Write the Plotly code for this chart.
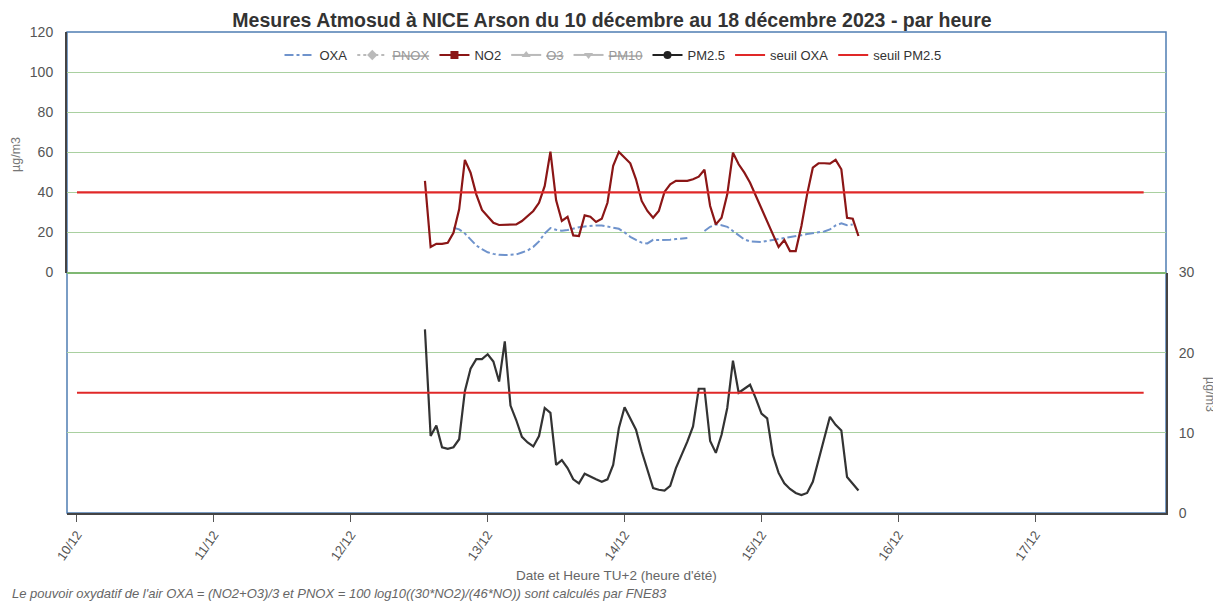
import pandas as pd
import plotly.graph_objects as go

# ---------------- data ----------------
start_time = "2023-12-12 13:00"
n_hours = 77

no2 = [45.7, 12.7, 14.3, 14.3, 14.8, 19.8, 31.5, 56.2, 49.8, 39.0,
       31.2, 28.0, 24.8, 23.7, 23.7, 24.0, 24.0, 25.7, 28.0, 30.7,
       34.8, 43.2, 60.3, 36.0, 25.7, 27.8, 18.5, 18.2, 28.5, 27.8,
       25.2, 26.8, 34.8, 53.2, 60.2, 57.3, 54.5, 46.5, 35.7, 30.7,
       27.3, 30.7, 40.2, 44.0, 45.7, 45.7, 45.7, 46.5, 47.8, 51.3,
       33.2, 24.0, 27.3, 39.0, 59.8, 54.0, 49.8, 44.8, 38.2, 31.5,
       24.8, 19.0, 12.8, 16.2, 10.7, 10.7, 23.2, 39.0, 52.3, 54.5,
       54.5, 54.3, 56.2, 51.5, 27.3, 26.8, 18.2]

oxa = [None, None, None, None, None, 22.3, 21.5, 19.5, 16.5, 13.5,
       11.6, 10.1, 9.3, 8.8, 8.7, 8.8, 9.0, 10.0, 11.0, 12.8,
       15.5, 19.5, 22.2, 21.3, 20.8, 21.2, 22.0, 22.6, 23.0, 23.3,
       23.5, 23.5, 23.0, 22.5, 21.8, 20.0, 17.8, 16.3, 14.9, 14.5,
       16.3, 16.2, 16.2, 16.4, 16.7, 17.0, 17.2, None, None, 20.7,
       22.8, 24.0, 23.6, 22.8, 20.8, 18.5, 16.5, 15.5, 15.2, 15.2,
       15.8, 16.4, 16.7, 17.2, 17.6, 18.0, 18.6, 19.2, 19.7, 20.1,
       20.5, 21.5, 23.5, 24.5, 23.6, 24.0, None]

pm25 = [22.9, 9.6, 10.9, 8.2, 8.0, 8.2, 9.2, 15.2, 18.0, 19.2,
        19.2, 19.8, 18.9, 16.4, 21.4, 13.4, 11.6, 9.5, 8.8, 8.3,
        9.6, 13.1, 12.5, 6.0, 6.6, 5.6, 4.2, 3.7, 4.9, 4.5,
        4.2, 3.9, 4.2, 6.0, 10.6, 13.2, 11.7, 10.4, 7.7, 5.3,
        3.1, 2.9, 2.8, 3.4, 5.6, 7.25, 8.9, 10.8, 15.5, 15.5,
        9.0, 7.5, 9.75, 13.1, 19.0, 15.0, 15.5, 16.0, 14.3, 12.4,
        11.8, 7.25, 5.0, 3.7, 3.0, 2.5, 2.25, 2.5, 3.9, 6.5,
        9.3, 12.0, 11.0, 10.3, 4.5, 3.7, 2.8]

seuil_dates = ["2023-12-10 00:00", "2023-12-17 19:00"]
seuil_oxa = [40, 40]
seuil_pm25 = [15, 15]

tick_dates = ["2023-12-10", "2023-12-11", "2023-12-12", "2023-12-13",
              "2023-12-14", "2023-12-15", "2023-12-16", "2023-12-17"]
tick_labels = ["10/12", "11/12", "12/12", "13/12", "14/12", "15/12", "16/12", "17/12"]
x_range = ["2023-12-09 22:15", "2023-12-17 22:55"]

times = pd.date_range(start_time, periods=n_hours, freq="h")

# ---------------- styles ----------------
FONT = "Liberation Sans, Arial, sans-serif"
C_OXA = "#6f93cc"
C_NO2 = "#8b1616"
C_PM = "#333333"
C_SEUIL = "#e02828"
C_GREY = "#777777"
C_GRID = "#a9d0a0"

# page body has an 8px margin: figure drawn at (8, 8)
OFF = 8
W, H = 1221 - OFF, 601 - OFF
PL, PT, PR, PB = 67, 32, 1166, 513          # plot area in window pixels
PW, PH = PR - PL, PB - PT


def px(xw):
    return (xw - PL) / PW


def py(yw):
    return (PB - yw) / PH


fig = go.Figure()

fig.add_trace(go.Scatter(x=times, y=oxa, mode="lines", yaxis="y", showlegend=False,
                         line=dict(color=C_OXA, width=2, dash="dashdot"), connectgaps=False))
fig.add_trace(go.Scatter(x=times, y=no2, mode="lines", yaxis="y", showlegend=False,
                         line=dict(color=C_NO2, width=2.2)))
fig.add_trace(go.Scatter(x=times, y=pm25, mode="lines", yaxis="y2", showlegend=False,
                         line=dict(color=C_PM, width=2.2)))
fig.add_trace(go.Scatter(x=seuil_dates, y=seuil_oxa, mode="lines", yaxis="y", showlegend=False,
                         line=dict(color=C_SEUIL, width=2.2)))
fig.add_trace(go.Scatter(x=seuil_dates, y=seuil_pm25, mode="lines", yaxis="y2", showlegend=False,
                         line=dict(color=C_SEUIL, width=2.2)))


def proxy(name, color, symbol=None, dash=None, visible=True):
    mode = "lines+markers" if symbol else "lines"
    return go.Scatter(x=[None], y=[None], mode=mode, name=name, visible=visible,
                      line=dict(color=color, width=2, dash=dash),
                      marker=dict(symbol=symbol or "circle", size=8, color=color))


fig.add_trace(proxy("OXA", C_OXA, dash="dashdot"))
fig.add_trace(proxy("<s>PNOX</s>", C_GREY, symbol="diamond", dash="dot", visible="legendonly"))
fig.add_trace(proxy("NO2", C_NO2, symbol="square"))
fig.add_trace(proxy("<s>O3</s>", C_GREY, symbol="triangle-up", visible="legendonly"))
fig.add_trace(proxy("<s>PM10</s>", C_GREY, symbol="triangle-down", visible="legendonly"))
fig.add_trace(proxy("PM2.5", "#222222", symbol="circle"))
fig.add_trace(proxy("seuil OXA", C_SEUIL))
fig.add_trace(proxy("seuil PM2.5", C_SEUIL))

fig.update_layout(
    width=W, height=H,
    margin=dict(l=PL - OFF, r=W - (PR - OFF), t=PT - OFF, b=H - (PB - OFF)),
    paper_bgcolor="white", plot_bgcolor="white",
    font=dict(family=FONT, size=13, color="#444444"),
    title=dict(text="<b>Mesures Atmosud à NICE Arson du 10 décembre au 18 décembre 2023 - par heure</b>",
               x=px(612), xref="paper", xanchor="center",
               y=1 - (20 - OFF) / H, yanchor="middle",
               font=dict(family=FONT, size=19.5, color="#333333")),
    legend=dict(orientation="h", x=px(613), xanchor="center", y=py(55), yanchor="middle",
                bgcolor="rgba(0,0,0,0)", font=dict(family=FONT, size=13, color="#333333"),
                itemwidth=30, tracegroupgap=0),
    xaxis=dict(type="date", range=x_range, anchor="y2",
               tickvals=tick_dates, ticktext=tick_labels, tickangle=-55,
               ticks="outside", ticklen=7, tickcolor="#555555",
               showline=True, linecolor="#444444", linewidth=2,
               showgrid=False, zeroline=False,
               tickfont=dict(size=13, color="#555555")),
    yaxis=dict(domain=[0.5, 1.0], range=[0, 120], dtick=20, anchor="x", side="left",
               showline=True, linecolor="#444444", linewidth=2,
               showgrid=True, gridcolor=C_GRID, gridwidth=1,
               zeroline=True, zerolinecolor="#7fb873", zerolinewidth=1.5,
               ticklabelstandoff=9,
               tickfont=dict(size=14, color="#555555")),
    yaxis2=dict(domain=[0.0, 0.5], range=[0, 30], dtick=10, anchor="x", side="right",
                showline=True, linecolor="#444444", linewidth=2,
                showgrid=True, gridcolor=C_GRID, gridwidth=1, zeroline=False,
                ticklabelstandoff=8,
                tickfont=dict(size=14, color="#555555")),
    shapes=[dict(type="rect", xref="paper", yref="paper", x0=0, x1=1, y0=0, y1=1,
                 line=dict(color="#4f7db3", width=1.5), layer="below")],
    annotations=[
        dict(text="µg/m3", xref="paper", yref="paper", x=px(16), y=py(155),
             xanchor="center", yanchor="middle",
             textangle=-90, showarrow=False, font=dict(size=12.5, color="#777777")),
        dict(text="µg/m3", xref="paper", yref="paper", x=px(1210), y=py(395),
             xanchor="center", yanchor="middle",
             textangle=90, showarrow=False, font=dict(size=12.5, color="#777777")),
        dict(text="Date et Heure TU+2 (heure d'été)", xref="paper", yref="paper",
             x=px(616), y=py(575), xanchor="center", yanchor="middle", showarrow=False,
             font=dict(size=13.5, color="#666666")),
        dict(text="<i>Le pouvoir oxydatif de l'air OXA = (NO2+O3)/3 et PNOX = 100 log10((30*NO2)/(46*NO)) sont calculés par FNE83</i>",
             xref="paper", yref="paper", x=px(10), xanchor="left",
             y=py(593), yanchor="middle", showarrow=False,
             font=dict(size=13, color="#666666")),
    ],
)

fig.write_html("out.html")
